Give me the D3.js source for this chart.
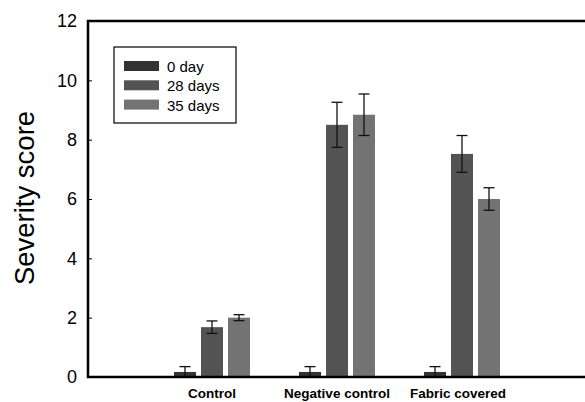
<!DOCTYPE html>
<html>
<head>
<meta charset="utf-8">
<script src="https://cdn.jsdelivr.net/npm/d3@7"></script>
<style>
  body { margin: 0; background: #fff; }
  svg { display: block; font-family: Arial, "Liberation Sans", sans-serif; }
</style>
</head>
<body>
<svg id="chart" width="585" height="402"></svg>
<script>
// chart data
var groups = ['Control', 'Negative control', 'Fabric covered'];
var series = ['0 day', '28 days', '35 days'];
var colors = ['#333333', '#535353', '#737373'];
var day0 = [0.17, 0.17, 0.17];
var day28 = [1.68, 8.5, 7.52];
var day35 = [2.0, 8.84, 6.0];
var err0 = [0.18, 0.18, 0.18];
var err28 = [0.21, 0.76, 0.62];
var err35 = [0.1, 0.7, 0.38];
var yTicks = [0, 2, 4, 6, 8, 10, 12];

var values = [day0, day28, day35];
var errors = [err0, err28, err35];

const margin = { top: 21, right: 0, bottom: 25, left: 88 };
var width = 585 - margin.left - margin.right,
    height = 402 - margin.top - margin.bottom;

var svg = d3.select('#chart');
var g = svg.append('g').attr('transform', 'translate(' + margin.left + ',' + margin.top + ')');

// groups are 125px apart, first centred 124px right of the axis
var x0 = d3.scaleBand()
    .domain(groups)
    .range([61.5, 436.5])
    .paddingInner(0);
var x1 = d3.scaleBand()
    .domain(series)
    .range([x0.bandwidth() / 2 - 38, x0.bandwidth() / 2 + 38])
    .paddingInner(0.185);

var y = d3.scaleLinear().domain([0, 12]).range([height, 0]);

// bars
var rows = [];
groups.forEach(function(grp, i) {
    series.forEach(function(s, j) {
        rows.push({ group: grp, series: s, value: values[j][i], err: errors[j][i], color: colors[j] });
    });
});

g.selectAll('rect.bar')
    .data(rows)
    .enter()
    .append('rect')
    .attr('class', 'bar')
    .attr('x', function(d) { return x0(d.group) + x1(d.series); })
    .attr('y', function(d) { return y(d.value); })
    .attr('width', x1.bandwidth())
    .attr('height', function(d) { return height - y(d.value); })
    .attr('fill', function(d) { return d.color; });

// error bars
var eb = g.selectAll('g.err')
    .data(rows)
    .enter()
    .append('g')
    .attr('class', 'err')
    .attr('transform', function(d) { return 'translate(' + (x0(d.group) + x1(d.series) + x1.bandwidth() / 2) + ',0)'; });
eb.append('line')
    .attr('y1', function(d) { return y(d.value + d.err); })
    .attr('y2', function(d) { return y(d.value - d.err); })
    .attr('stroke', '#111').attr('stroke-width', 1.3);
eb.append('line')
    .attr('x1', -5.5).attr('x2', 5.5)
    .attr('y1', function(d) { return y(d.value + d.err); })
    .attr('y2', function(d) { return y(d.value + d.err); })
    .attr('stroke', '#111').attr('stroke-width', 1.3);
eb.append('line')
    .attr('x1', -5.5).attr('x2', 5.5)
    .attr('y1', function(d) { return y(d.value - d.err); })
    .attr('y2', function(d) { return y(d.value - d.err); })
    .attr('stroke', '#111').attr('stroke-width', 1.3);

// y axis, ticks pointing inward
var yAxis = g.append('g')
    .call(d3.axisRight(y).tickValues(yTicks).tickSize(4).tickFormat(d3.format('d')));
yAxis.select('.domain').remove();
yAxis.selectAll('.tick line').attr('stroke', '#000').attr('stroke-width', 1);
yAxis.selectAll('.tick text')
    .attr('x', -11)
    .attr('text-anchor', 'end')
    .attr('font-size', 18)
    .attr('font-family', 'Arial, "Liberation Sans", sans-serif')
    .attr('fill', '#000');

// frame: left, bottom and top lines (right side runs off the page)
g.append('path')
    .attr('d', 'M' + (width + 10) + ',0H0V' + height + 'H' + (width + 10))
    .attr('fill', 'none')
    .attr('stroke', '#000')
    .attr('stroke-width', 2.5);

// x labels
g.selectAll('text.xlab')
    .data(groups)
    .enter()
    .append('text')
    .attr('class', 'xlab')
    .attr('x', function(d, i) { return x0(d) + x0.bandwidth() / 2 - (i == 2 ? 4 : 0); })
    .attr('y', height + 20.5)
    .attr('text-anchor', 'middle')
    .attr('font-size', 13.5)
    .attr('font-weight', 'bold')
    .attr('fill', '#000')
    .text(function(d) { return d; });

// y title
svg.append('text')
    .attr('transform', 'translate(34,198) rotate(-90)')
    .attr('text-anchor', 'middle')
    .attr('font-size', 27.5)
    .attr('fill', '#000')
    .text('Severity score');

// legend
var lg = svg.append('g').attr('transform', 'translate(114,47)');
lg.append('rect').attr('width', 122).attr('height', 76)
    .attr('fill', '#fff').attr('stroke', '#000').attr('stroke-width', 1.2);
series.forEach(function(s, i) {
    lg.append('rect')
        .attr('x', 10).attr('y', 14 + i * 19.3)
        .attr('width', 35).attr('height', 10)
        .attr('fill', colors[i]);
    lg.append('text')
        .attr('x', 53).attr('y', 25 + i * 19.3)
        .attr('font-size', 15)
        .attr('fill', '#000')
        .text(s);
});
</script>
</body>
</html>
